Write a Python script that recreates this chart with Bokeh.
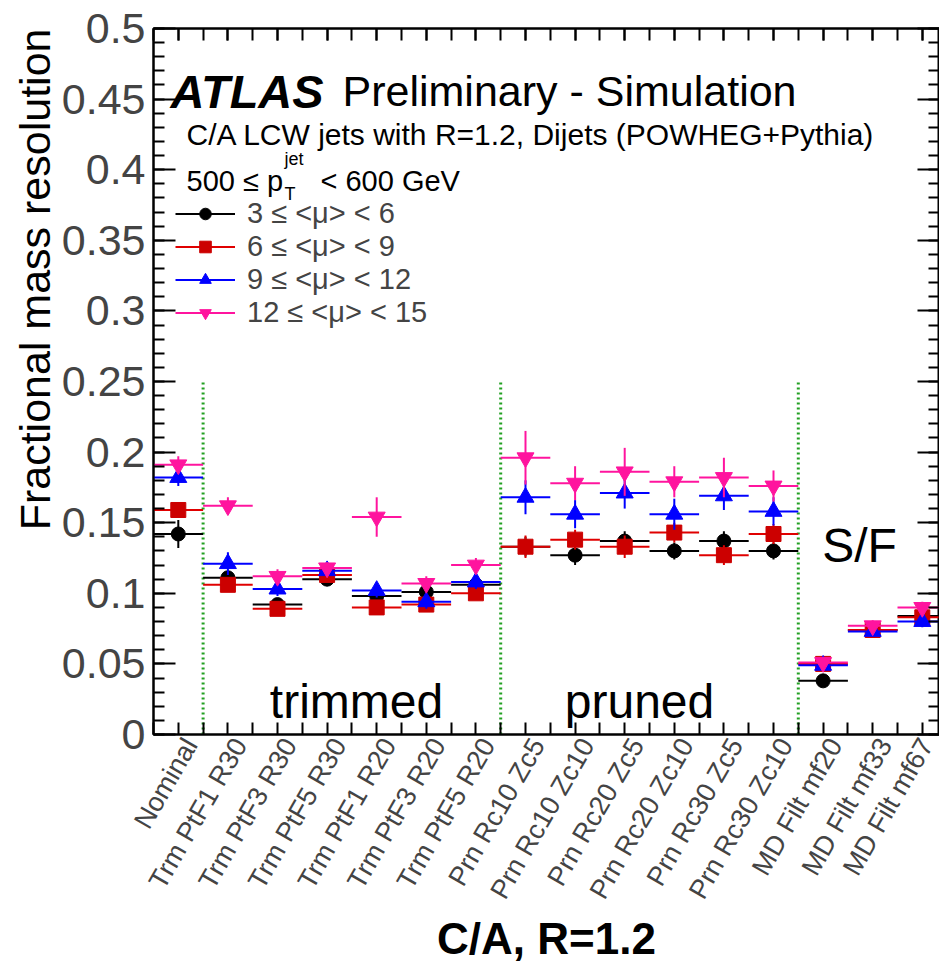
import math
from bokeh.plotting import figure
from bokeh.models import (Range1d, FixedTicker, LinearAxis, Label, Legend,
                          LegendItem, ColumnDataSource, Title)
from bokeh.embed import file_html
from bokeh.resources import INLINE

# ---------------- data ----------------
categories = ["Nominal", "Trm PtF1 R30", "Trm PtF3 R30", "Trm PtF5 R30",
              "Trm PtF1 R20", "Trm PtF3 R20", "Trm PtF5 R20",
              "Prn Rc10 Zc5", "Prn Rc10 Zc10", "Prn Rc20 Zc5", "Prn Rc20 Zc10",
              "Prn Rc30 Zc5", "Prn Rc30 Zc10",
              "MD Filt mf20", "MD Filt mf33", "MD Filt mf67"]

mu_labels = ["3 \u2264 <\u03bc> < 6", "6 \u2264 <\u03bc> < 9",
             "9 \u2264 <\u03bc> < 12", "12 \u2264 <\u03bc> < 15"]

res_mu3_6 = [0.142, 0.111, 0.092, 0.110, 0.098, 0.101, 0.106,
             0.133, 0.127, 0.137, 0.130, 0.137, 0.130, 0.038, 0.074, 0.084]
err_mu3_6 = [0.010, 0.004, 0.004, 0.004, 0.004, 0.005, 0.004,
             0.007, 0.007, 0.007, 0.006, 0.007, 0.006, 0.003, 0.003, 0.003]

res_mu6_9 = [0.159, 0.106, 0.089, 0.113, 0.090, 0.092, 0.100,
             0.133, 0.138, 0.133, 0.143, 0.127, 0.142, 0.050, 0.074, 0.083]
err_mu6_9 = [0.005, 0.004, 0.004, 0.004, 0.004, 0.004, 0.004,
             0.008, 0.007, 0.008, 0.007, 0.007, 0.007, 0.003, 0.003, 0.003]

res_mu9_12 = [0.182, 0.121, 0.103, 0.116, 0.102, 0.094, 0.108,
              0.168, 0.156, 0.171, 0.156, 0.169, 0.158, 0.049, 0.073, 0.080]
err_mu9_12 = [0.006, 0.008, 0.005, 0.004, 0.005, 0.005, 0.005,
              0.012, 0.010, 0.011, 0.011, 0.010, 0.010, 0.003, 0.003, 0.004]

res_mu12_15 = [0.191, 0.162, 0.112, 0.118, 0.154, 0.107, 0.120,
               0.196, 0.178, 0.186, 0.179, 0.182, 0.176, 0.051, 0.077, 0.090]
err_mu12_15 = [0.006, 0.006, 0.005, 0.004, 0.014, 0.005, 0.005,
               0.019, 0.012, 0.017, 0.011, 0.014, 0.011, 0.004, 0.004, 0.004]

y_ticks = [0, 0.05, 0.1, 0.15, 0.2, 0.25, 0.3, 0.35, 0.4, 0.45, 0.5]
y_tick_labels = ["0", "0.05", "0.1", "0.15", "0.2", "0.25", "0.3", "0.35",
                 "0.4", "0.45", "0.5"]

separators = [1, 7, 13]
separator_top = 0.25

# ---------------- styling ----------------
FONT = "Liberation Sans"
series = [
    (res_mu3_6, err_mu3_6, "circle", 14, "#000000", "#000000"),
    (res_mu6_9, err_mu6_9, "square", 15, "#CC0000", "#E00000"),
    (res_mu9_12, err_mu9_12, "triangle", 17, "#0000FF", "#0000FF"),
    (res_mu12_15, err_mu12_15, "inverted_triangle", 17, "#FF149E", "#FF149E"),
]

n = len(categories)
centers = [i + 0.5 for i in range(n)]
label_pos = [c + 0.25 for c in centers]

W, H = 939, 966
FL, FT, FB = 153.0, 28.0, 736.0
PXB = 49.6
PXU = (FB - FT) / 0.5

def dx(px):
    return (px - FL) / PXB
def dy(py):
    return (FB - py) / PXU

x_end = (W - FL) / PXB

p = figure(width=W, height=H, x_range=Range1d(0, x_end), y_range=Range1d(0, 0.5),
           output_backend="svg", toolbar_location=None,
           x_axis_location=None, y_axis_location=None,
           min_border_left=int(FL), min_border_right=0, min_border_top=int(FT),
           min_border_bottom=int(H - FB))
p.grid.visible = False
p.outline_line_color = "black"
p.outline_line_width = 2
p.background_fill_color = "white"
p.border_fill_color = "white"

x_minor = [i * 0.5 for i in range(2 * n + 1)]
y_minor = [round(i * 0.01, 2) for i in range(51)]

def style_axis(ax, tick_major, tick_minor):
    ax.major_tick_in = tick_major
    ax.major_tick_out = 0
    ax.minor_tick_in = tick_minor
    ax.minor_tick_out = 0
    ax.axis_line_width = 2
    ax.major_tick_line_width = 2
    ax.minor_tick_line_width = 2
    ax.axis_line_color = "black"

xax = LinearAxis(ticker=FixedTicker(ticks=label_pos, minor_ticks=x_minor),
                 major_label_overrides={c: lab for c, lab in zip(label_pos, categories)})
style_axis(xax, 0, 12)
xax.major_label_orientation = math.pi / 3
xax.major_label_text_font = FONT
xax.major_label_text_font_size = "27px"
xax.major_label_standoff = 6
xax.axis_label = "C/A, R=1.2"
xax.axis_label_text_font = FONT
xax.axis_label_text_font_size = "44px"
xax.axis_label_text_font_style = "bold"
xax.axis_label_text_color = "black"
xax.axis_label_standoff = 0
p.add_layout(xax, "below")

xtop = LinearAxis(ticker=FixedTicker(ticks=centers, minor_ticks=x_minor),
                  major_label_text_font_size="0px", major_label_standoff=0)
style_axis(xtop, 12, 12)
xtop.major_label_text_alpha = 0
p.add_layout(xtop, "above")

yax = LinearAxis(ticker=FixedTicker(ticks=y_ticks, minor_ticks=y_minor),
                 major_label_overrides={t: lab for t, lab in zip(y_ticks, y_tick_labels)})
style_axis(yax, 22, 11)
yax.major_label_text_font = FONT
yax.major_label_text_font_size = "43px"
yax.major_label_standoff = 8
p.add_layout(yax, "left")

ytitle = Title(text="Fractional mass resolution", align="right",
               text_font=FONT, text_font_size="43px", text_font_style="normal",
               text_color="black", standoff=0, offset=0)
p.add_layout(ytitle, "left")

yright = LinearAxis(ticker=FixedTicker(ticks=y_ticks, minor_ticks=y_minor),
                    major_label_text_font_size="0px", major_label_standoff=0)
style_axis(yright, 22, 11)
yright.major_label_text_alpha = 0
p.add_layout(yright, "right")

# section separators
p.segment(x0=separators, y0=[0] * len(separators), x1=separators,
          y1=[separator_top] * len(separators),
          line_color="#22A022", line_width=3, line_dash="2 3")

legend_items = []
for (vals, errs, marker, size, fill, lcol), lab in zip(series, mu_labels):
    src = ColumnDataSource(dict(
        x=centers, y=vals,
        x0=[i for i in range(n)], x1=[i + 1 for i in range(n)],
        lo=[v - e for v, e in zip(vals, errs)],
        hi=[v + e for v, e in zip(vals, errs)]))
    rh = p.segment(x0="x0", y0="y", x1="x1", y1="y", source=src,
                   line_color=lcol, line_width=2)
    p.segment(x0="x", y0="lo", x1="x", y1="hi", source=src,
              line_color=lcol, line_width=2)
    rm = p.scatter(x="x", y="y", source=src, marker=marker, size=size,
                   fill_color=fill, line_color=fill)
    legend_items.append(LegendItem(label=lab, renderers=[rh, rm]))

legend = Legend(items=legend_items, location=(22, 405), orientation="vertical",
                padding=0, margin=0, spacing=0, glyph_width=60, glyph_height=29,
                label_height=29, label_standoff=12, label_text_font=FONT,
                label_text_font_size="29px", border_line_color=None,
                background_fill_alpha=0)
p.add_layout(legend)

def add_label(text, px, py, size, align="left", baseline="alphabetic",
              style="normal", angle=0.0):
    p.add_layout(Label(x=dx(px), y=dy(py), text=text, text_font=FONT,
                       text_font_size=f"{size}px", text_align=align,
                       text_baseline=baseline, text_font_style=style,
                       text_color="black", angle=angle))

add_label("ATLAS", 170, 91, 47, style="bold italic")
add_label("Preliminary - Simulation", 342, 91, 43)
add_label("C/A LCW jets with R=1.2, Dijets (POWHEG+Pythia)", 186, 134, 30)
add_label("500 \u2264 p", 186, 181, 29)
add_label("jet", 284, 159, 18)
add_label("T", 284, 194, 18)
add_label("< 600 GeV", 320, 181, 29)
add_label("trimmed", 356, 703, 48, align="center")
add_label("pruned", 639, 703, 48, align="center")
add_label("S/F", 859, 546, 48, align="center")

open("out.html", "w").write(file_html(p, INLINE))
